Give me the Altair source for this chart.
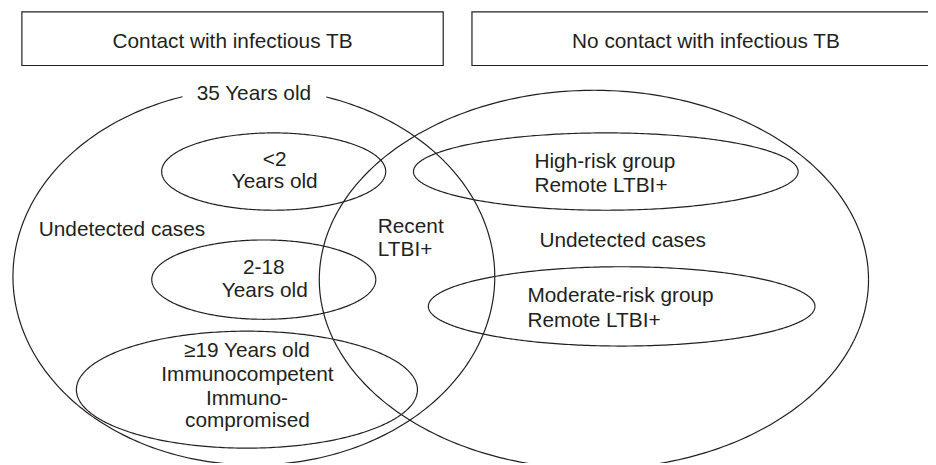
import altair as alt
import pandas as pd
import numpy as np

# ---- diagram content -------------------------------------------------------
box_names = ["Contact with infectious TB", "No contact with infectious TB"]
box_x1 = [22, 476]
box_x2 = [447, 950]
box_y1 = [10, 10]
box_y2 = [64, 64]

ellipse_names = ["35 Years old", "No contact", "<2", "2-18", ">=19",
                 "High-risk", "Moderate-risk"]
ellipse_cx = [256, 599, 276, 266, 249, 611, 627]
ellipse_cy = [277, 280, 171, 280, 391, 171, 307]
ellipse_rx = [243, 277, 113, 113, 172, 194, 195]
ellipse_ry = [190, 191, 39, 40, 59, 39, 40]

center_labels = ["Contact with infectious TB", "No contact with infectious TB",
                 "35 Years old", "<2", "Years old", "2-18", "Years old",
                 "≥19 Years old", "Immunocompetent", "Immuno-", "compromised"]
center_x = [234.5, 712, 256, 277, 277, 266, 267, 249, 249.5, 249, 249.5]
center_y = [46, 46, 99, 165, 188, 274, 298, 358, 382, 406, 429]

left_labels = ["Undetected cases", "Recent", "LTBI+", "High-risk group",
               "Remote LTBI+", "Undetected cases", "Moderate-risk group",
               "Remote LTBI+"]
left_x = [39, 381, 381, 539, 539, 544, 532, 532]
left_y = [236, 233, 256, 167, 192, 247, 303, 328]

# ---- tables ----------------------------------------------------------------
boxes = pd.DataFrame({"name": box_names, "x1": box_x1, "x2": box_x2,
                      "y1": box_y1, "y2": box_y2})

rows = []
t = np.linspace(0, 2 * np.pi, 361)
for n, cx, cy, rx, ry in zip(ellipse_names, ellipse_cx, ellipse_cy,
                             ellipse_rx, ellipse_ry):
    for i, a in enumerate(t):
        rows.append({"shape": n, "i": i,
                     "x": cx + rx * np.cos(a), "y": cy + ry * np.sin(a)})
ell = pd.DataFrame(rows)

mask = pd.DataFrame({"x1": [184], "x2": [329], "y1": [80], "y2": [106]})
ctext = pd.DataFrame({"label": center_labels, "x": center_x, "y": center_y})
ltext = pd.DataFrame({"label": left_labels, "x": left_x, "y": left_y})

xs = alt.Scale(domain=[8, 936], nice=False, zero=False)
ys = alt.Scale(domain=[8, 465], reverse=True, nice=False, zero=False)
INK = "#231f20"
FONT = "Liberation Sans"

ell_layer = alt.Chart(ell).mark_line(
    stroke=INK, strokeWidth=1.2, clip=True, interpolate="linear"
).encode(
    x=alt.X("x:Q", scale=xs, axis=None),
    y=alt.Y("y:Q", scale=ys, axis=None),
    detail="shape:N",
    order="i:Q",
)

mask_layer = alt.Chart(mask).mark_rect(fill="white", stroke=None).encode(
    x=alt.X("x1:Q", scale=xs, axis=None), x2="x2:Q",
    y=alt.Y("y1:Q", scale=ys, axis=None), y2="y2:Q",
)

box_layer = alt.Chart(boxes).mark_rect(
    fill="white", stroke=INK, strokeWidth=1.2, clip=True
).encode(
    x=alt.X("x1:Q", scale=xs, axis=None), x2="x2:Q",
    y=alt.Y("y1:Q", scale=ys, axis=None), y2="y2:Q",
)

ctext_layer = alt.Chart(ctext).mark_text(
    align="center", baseline="alphabetic", fontSize=21, font=FONT, color=INK
).encode(
    x=alt.X("x:Q", scale=xs, axis=None),
    y=alt.Y("y:Q", scale=ys, axis=None),
    text="label:N",
)

ltext_layer = alt.Chart(ltext).mark_text(
    align="left", baseline="alphabetic", fontSize=21, font=FONT, color=INK
).encode(
    x=alt.X("x:Q", scale=xs, axis=None),
    y=alt.Y("y:Q", scale=ys, axis=None),
    text="label:N",
)

chart = alt.layer(
    ell_layer, mask_layer, box_layer, ctext_layer, ltext_layer
).properties(
    width=928, height=457, padding=0, autosize="none", background="white"
).configure_view(stroke=None)

chart.save("out.html", embed_options={"renderer": "svg", "actions": False})
